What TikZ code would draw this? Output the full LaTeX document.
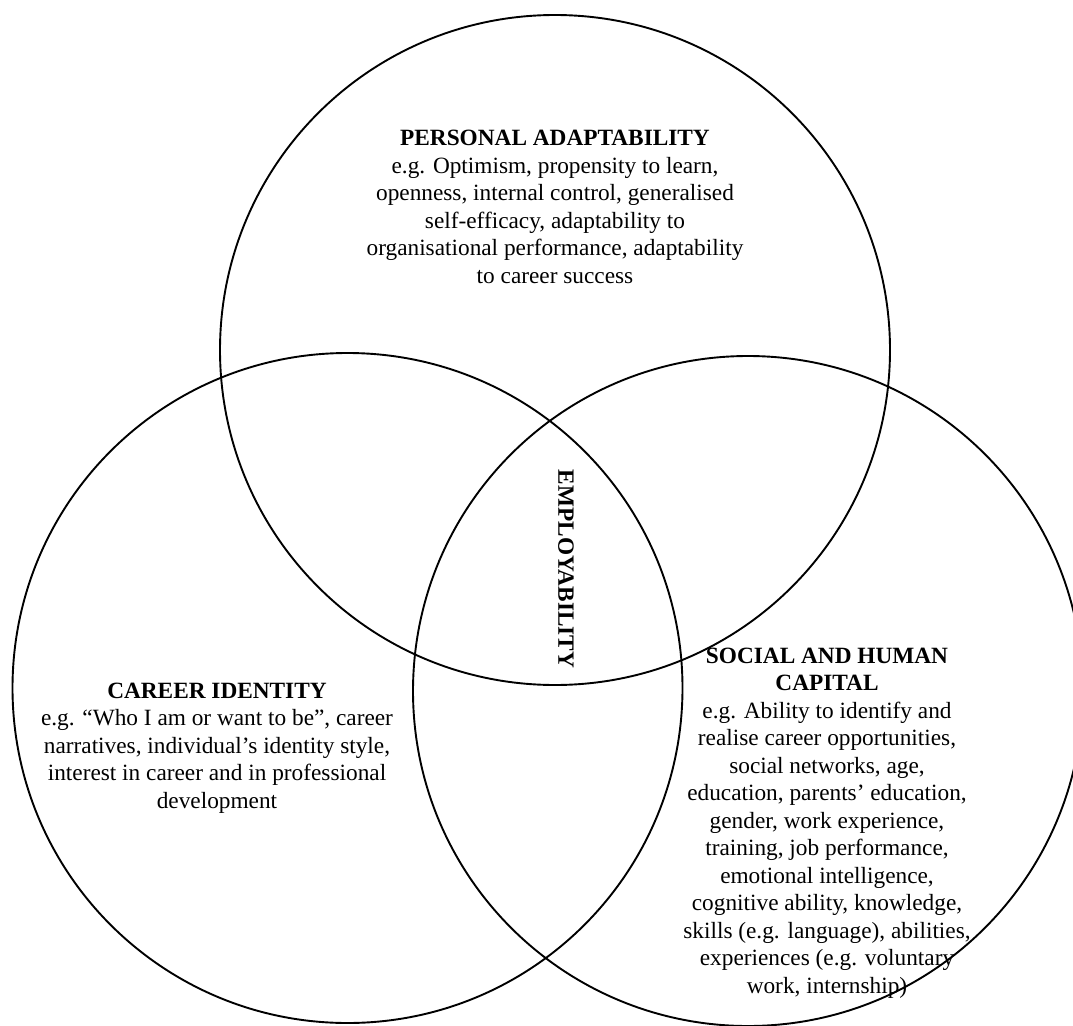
\documentclass[tikz,border=0pt]{standalone}
\usepackage{fontspec}
\setmainfont{Liberation Serif}
\begin{document}
\begin{tikzpicture}[x=1pt,y=-1pt,
  ring/.style={draw=black, line width=1.9pt},
  blurb/.style={align=center, inner sep=0pt,
    font=\fontsize{23.3}{27.5}\selectfont},
  heading/.style={inner sep=0pt, font=\fontsize{23.3}{27.5}\selectfont\bfseries}]
\useasboundingbox (0,0) rectangle (1073,1025);
\fill[white] (0,0) rectangle (1073,1025);
\clip (0,0) rectangle (1073,1025);

% the three overlapping sets
\draw[ring] (555,350) circle[radius=335pt];
\draw[ring] (347.5,688) circle[radius=335pt];
\draw[ring] (748,691) circle[radius=335pt];

% set descriptions
\node[blurb] (adapt) at (555,207) {\textbf{PERSONAL ADAPTABILITY}\\
  e.g. Optimism, propensity to learn,\\
  openness, internal control, generalised\\
  self-efficacy, adaptability to\\
  organisational performance, adaptability\\
  to career success};

\node[blurb] (identity) at (217,748) {\textbf{CAREER IDENTITY}\\
  e.g. “Who I am or want to be”, career\\
  narratives, individual’s identity style,\\
  interest in career and in professional\\
  development};

\node[blurb] (capital) at (827,823) {\textbf{SOCIAL AND HUMAN}\\
  \textbf{CAPITAL}\\
  e.g. Ability to identify and\\
  realise career opportunities,\\
  social networks, age,\\
  education, parents’ education,\\
  gender, work experience,\\
  training, job performance,\\
  emotional intelligence,\\
  cognitive ability, knowledge,\\
  skills (e.g. language), abilities,\\
  experiences (e.g. voluntary\\
  work, internship)};

% the common core
\node[heading, rotate=-90] (core) at (566,569) {EMPLOYABILITY};
\end{tikzpicture}
\end{document}
